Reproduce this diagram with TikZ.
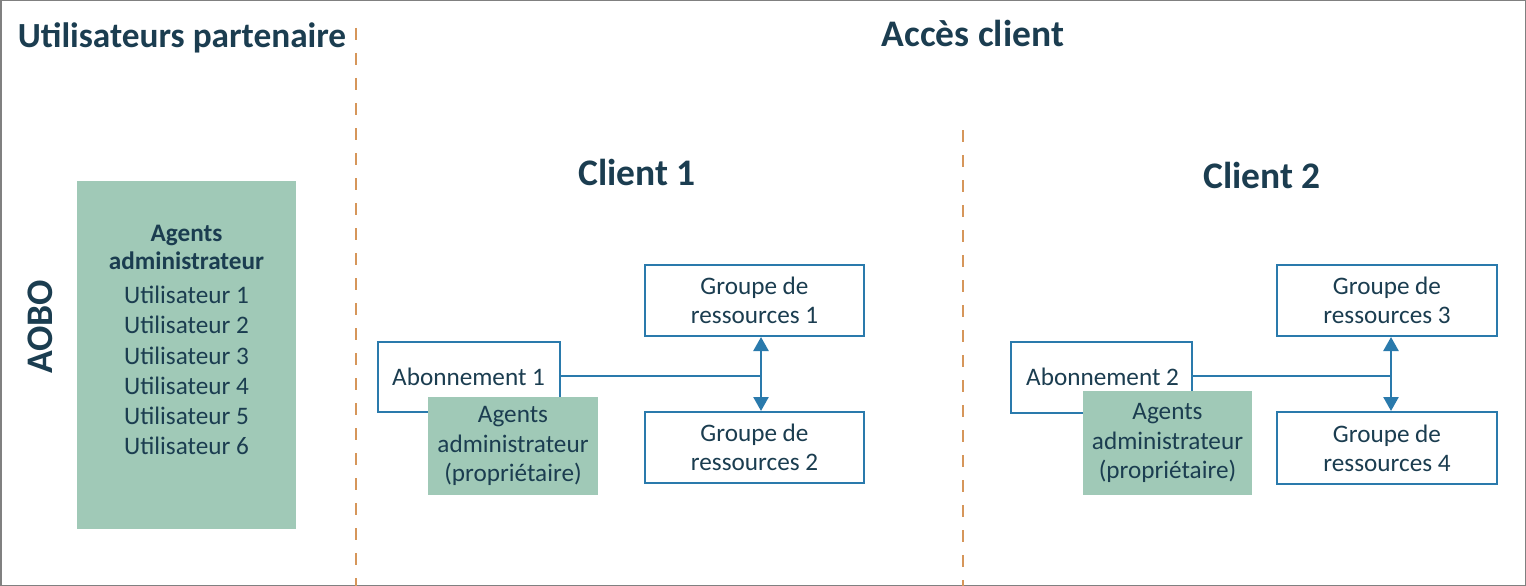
\documentclass[tikz,border=0pt]{standalone}
\usepackage{fontspec}
\setmainfont{Carlito}
\usetikzlibrary{arrows.meta}
\definecolor{txt}{RGB}{27,61,80}
\definecolor{grn}{RGB}{160,201,183}
\definecolor{blu}{RGB}{42,122,172}
\definecolor{org}{RGB}{214,150,90}
\definecolor{frm}{RGB}{128,128,128}
\begin{document}
\begin{tikzpicture}[x=1pt,y=-1pt,
  every node/.style={text=txt, inner sep=0pt},
  title/.style={font=\fontsize{37.5}{44}\selectfont\bfseries},
  body/.style={font=\fontsize{25.2}{29.3}\selectfont, align=center},
  gbox/.style={fill=grn, draw=none},
  bbox/.style={draw=blu, line width=2pt, fill=white},
  divider/.style={draw=org, line width=2pt, dash pattern=on 12pt off 13pt},
  conn/.style={draw=blu, line width=2.5pt},
  arr/.style={conn, {Triangle[width=15pt,length=14pt]}-{Triangle[width=15pt,length=14pt]}}
]
\useasboundingbox (0,0) rectangle (1526,586);
\draw[frm, line width=1.5pt] (0.75,0.75) rectangle (1525.25,585.25);

% headings
\node[title, font=\fontsize{35.3}{42}\selectfont\bfseries] (tpart) at (182,38) {Utilisateurs partenaire};
\node[title] (tacc) at (973,33) {Accès client};
\node[title] (tc1) at (637,172) {Client 1};
\node[title] (tc2) at (1262,175) {Client 2};
\node[title, rotate=90] (taobo) at (40,327) {AOBO};

% dividers
\coordinate (d1a) at (356,28); \coordinate (d1b) at (356,586);
\coordinate (d2a) at (963,130); \coordinate (d2b) at (963,586);
\draw[divider] (d1a) -- (d1b);
\draw[divider] (d2a) -- (d2b);

% partner agents box
\node[gbox, minimum width=219pt, minimum height=348pt] (agents) at (186.5,355) {};
\node[body, font=\fontsize{25.2}{28}\selectfont\bfseries] (agt) at (186.5,247) {Agents\\administrateur};
\node[body, font=\fontsize{25.2}{30.2}\selectfont] (users) at (186.5,370.5) {Utilisateur 1\\Utilisateur 2\\Utilisateur 3\\Utilisateur 4\\Utilisateur 5\\Utilisateur 6};

% client 1
\node[bbox, minimum width=182pt, minimum height=70pt] (ab1) at (469,377) {};
\node[body, anchor=west] (ab1t) at (392,377) {Abonnement 1};
\node[gbox, minimum width=170pt, minimum height=98pt, body] (ag1) at (513,446) {Agents\\administrateur\\(propriétaire)};
\node[bbox, minimum width=219pt, minimum height=71pt, body] (gr1) at (754.5,300.5) {Groupe de\\ressources 1};
\node[bbox, minimum width=219pt, minimum height=71pt, body] (gr2) at (754.5,447.5) {Groupe de\\ressources 2};
\coordinate (j1) at (761,376);
\draw[conn] (ab1.east |- j1) -- (j1);
\draw[arr] (gr1.south -| j1) -- (gr2.north -| j1);

% client 2
\node[bbox, minimum width=181pt, minimum height=71pt] (ab2) at (1101.5,377.5) {};
\node[body, anchor=west] (ab2t) at (1026,377) {Abonnement 2};
\node[gbox, minimum width=169pt, minimum height=104pt, body] (ag2) at (1167.5,443) {Agents\\administrateur\\(propriétaire)};
\node[bbox, minimum width=220pt, minimum height=71pt, body] (gr3) at (1387,300.5) {Groupe de\\ressources 3};
\node[bbox, minimum width=220pt, minimum height=72pt, body] (gr4) at (1387,448) {Groupe de\\ressources 4};
\coordinate (j2) at (1391,376);
\draw[conn] (ab2.east |- j2) -- (j2);
\draw[arr] (gr3.south -| j2) -- (gr4.north -| j2);
\end{tikzpicture}
\end{document}
